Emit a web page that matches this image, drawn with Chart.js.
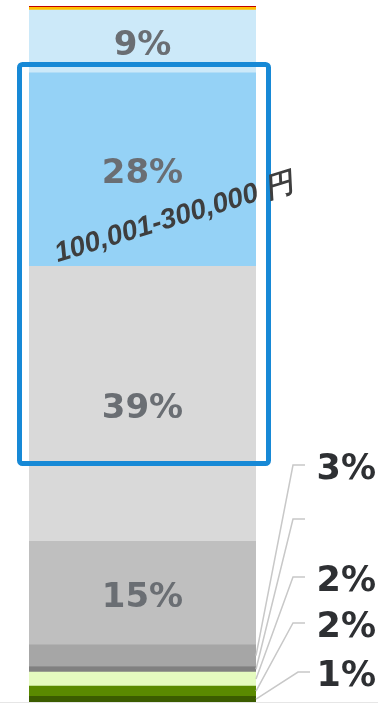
<!DOCTYPE html>
<html>
<head>
<meta charset="utf-8">
<script src="https://cdn.jsdelivr.net/npm/chart.js@4/dist/chart.umd.min.js"></script>
<style>
html,body{margin:0;padding:0;background:#fff;}
canvas{display:block;}
</style>
</head>
<body>
<canvas id="c" width="378" height="703"></canvas>
<script>
// ---- data (bottom segment first) ----
const categories = [''];
const segmentValues = [0.8, 1.5, 2.0, 0.8, 3.1, 14.9, 39.5, 27.8, 9.0, 0.4, 0.2];
const segmentColors = ['#3b5c00', '#5a8a00', '#e5fbbf', '#808080', '#a6a6a6', '#bfbfbf', '#d9d9d9', '#95d2f6', '#cce9f9', '#ffc000', '#c00000'];
const insideLabels  = ['', '', '', '', '', '15%', '39%', '28%', '9%', '', ''];
const calloutLabels = ['1%', '2%', '2%', '', '3%'];
const bracketLabel = '100,001-300,000 円';

const datasets = segmentValues.map((v, i) => ({
  data: [v],
  backgroundColor: segmentColors[i],
  borderWidth: 0,
  stack: 's',
  barPercentage: 1,
  categoryPercentage: 1
}));

const overlay = {
  id: 'overlay',
  afterDatasetsDraw(chart) {
    const ctx = chart.ctx;
    const area = chart.chartArea;
    ctx.save();
    // baseline
    ctx.fillStyle = '#e6e6e6';
    ctx.fillRect(0, area.bottom, chart.width, 1);

    // inside labels
    ctx.font = 'bold 34px "DejaVu Sans"';
    ctx.fillStyle = '#6a6e73';
    ctx.textAlign = 'center';
    ctx.textBaseline = 'middle';
    chart.data.datasets.forEach((ds, i) => {
      const el = chart.getDatasetMeta(i).data[0];
      if (insideLabels[i]) {
        ctx.fillText(insideLabels[i], el.x, (el.y + el.base) / 2 + 5);
      }
    });

    // callouts
    const calloutY = [672, 623, 577, 519, 465];
    const right = area.right;
    ctx.strokeStyle = '#c8c8c8';
    ctx.lineWidth = 1.5;
    calloutLabels.forEach((t, i) => {
      const el = chart.getDatasetMeta(i).data[0];
      const y0 = (el.y + el.base) / 2;
      const bendX = i === 0 ? right + 42 : right + 37;
      const endX = bendX + 12;
      ctx.beginPath();
      ctx.moveTo(right, y0);
      ctx.lineTo(bendX, calloutY[i]);
      ctx.lineTo(endX, calloutY[i]);
      ctx.stroke();
      if (t) {
        ctx.font = 'bold 35px "DejaVu Sans"';
        ctx.fillStyle = '#2e3033';
        ctx.textAlign = 'right';
        ctx.textBaseline = 'middle';
        ctx.fillText(t, 376, calloutY[i] + 5);
      }
    });

    // highlight box
    ctx.strokeStyle = '#1789d6';
    ctx.lineWidth = 5;
    ctx.lineJoin = 'round';
    const bx = area.left - 9.5, by = 64.5, bw = (area.right + 12.5) - bx, bh = 463.5 - by;
    ctx.beginPath();
    ctx.roundRect(bx, by, bw, bh, 3);
    ctx.stroke();

    // rotated bracket label
    ctx.translate(176, 226);
    ctx.rotate(-17 * Math.PI / 180);
    ctx.font = 'italic bold 28px "Liberation Sans"';
    ctx.fillStyle = '#3e3e3e';
    ctx.textAlign = 'center';
    ctx.textBaseline = 'alphabetic';
    ctx.fillText(bracketLabel, 0, 0);
    ctx.restore();
  }
};

new Chart(document.getElementById('c'), {
  type: 'bar',
  data: { labels: categories, datasets },
  options: {
    responsive: false,
    animation: false,
    layout: { padding: { left: 29, right: 122, top: 6, bottom: 1 } },
    plugins: { legend: { display: false }, tooltip: { enabled: false } },
    scales: {
      x: { display: false, stacked: true },
      y: { display: false, stacked: true, min: 0, max: 100 }
    }
  },
  plugins: [overlay]
});
</script>
</body>
</html>
